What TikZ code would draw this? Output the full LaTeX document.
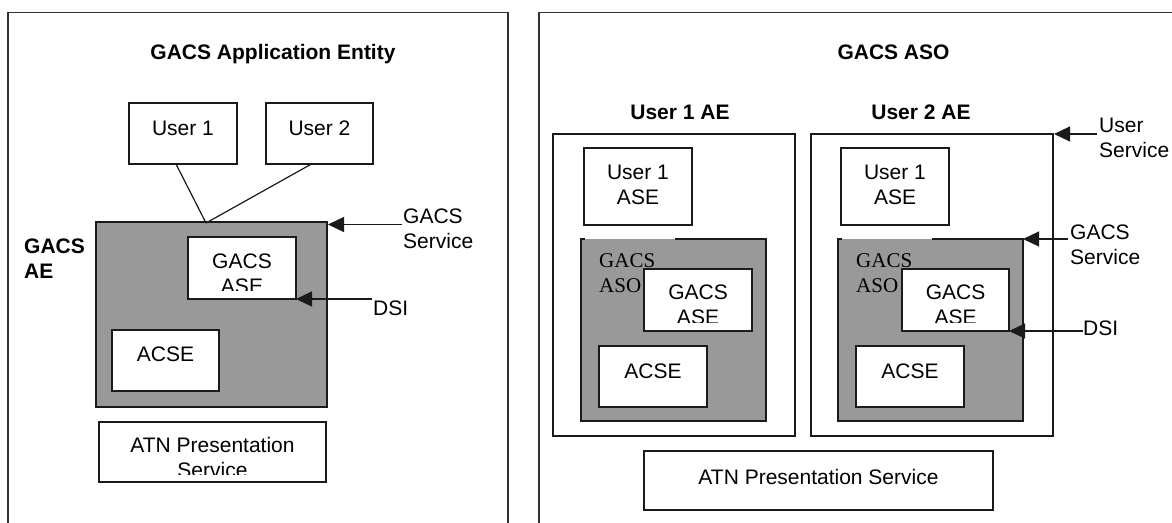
\documentclass[tikz,border=0pt]{standalone}
\usepackage{fontspec}
\setmainfont{Liberation Sans}
\newfontfamily\serifface{Liberation Serif}
\usetikzlibrary{arrows.meta,calc,fit}

\definecolor{shade}{HTML}{999999}
\definecolor{ink}{HTML}{1A1A1A}

% line break that keeps a strut on every line, so lines are evenly spaced
\newcommand\brk{\\\strut}

\tikzset{
  frame/.style={draw=ink!90, line width=1.3pt},
  edge/.style={draw=ink, line width=1.2pt},
  box/.style={draw=ink, line width=1.2pt, fill=white, inner sep=0pt, outer sep=0pt},
  graybox/.style={fill=shade, inner sep=0pt, outer sep=0pt},
  txt/.style={font=\fontsize{21}{25}\selectfont, inner sep=0pt, align=center,
              execute at begin node=\strut},
  lbl/.style={txt, align=left, anchor=west},
  ttl/.style={txt, font=\fontsize{21}{25}\selectfont\bfseries},
  serif/.style={lbl, font=\fontsize{21}{25}\selectfont\serifface},
  ptr/.style={edge, -{Triangle[length=16pt,width=15pt]}}
}

\begin{document}
\begin{tikzpicture}[x=1pt,y=-1pt]
\useasboundingbox (0,0) rectangle (1172,522);

% ---------------- left panel: GACS Application Entity ----------------
\draw[frame] (8,530) -- (8,12.3) -- (508,12.3) -- (508,530);
\node[ttl] (ttlA) at (273,54.3) {GACS Application Entity};

\node[box, fit={(129,103)(237,164)}] (u1) {};
\node[txt] (u1t) at (183,130.3) {User 1};
\node[box, fit={(266,103)(373,164)}] (u2) {};
\node[txt] (u2t) at (319.5,130.3) {User 2};

\node[graybox, draw=ink, line width=1.2pt, fit={(96,222)(327,407)}] (ae) {};
\node[ttl, align=left, anchor=west] (aelbl) at (24,262.8) {GACS\brk AE};

\coordinate (join) at ($(ae.north west)+(110,1)$);
\draw[edge] ($(u1.south)+(-7,0)$) -- (join);
\draw[edge] ($(u2.south)+(-8,0)$) -- (join);

\node[box, fit={(188,237)(296,299)}] (gase) {};
\begin{scope}
  \clip (188,237) rectangle (296,290.5);
  \node[txt] (gaset) at (242,277.3) {GACS\brk ASE};
\end{scope}

\node[box, fit={(112,330)(219,391)}] (acse) {};
\node[txt] (acset) at (165.5,356.8) {ACSE};

\node[box, fit={(99,422)(326,482)}] (atn) {};
\begin{scope}
  \clip (99,422) rectangle (326,474);
  \node[txt] (atnt) at (212.5,460.8) {ATN Presentation\brk Service};
\end{scope}

\node[lbl] (gsvc) at (403,232.8) {GACS\brk Service};
\coordinate (gsvcEnd) at (402,224.5);
\draw[ptr] (gsvcEnd) -- ($(ae.north east)+(1,2.5)$);

\node[lbl] (dsi) at (373,310.3) {DSI};
\coordinate (dsiEnd) at (372,299);
\draw[ptr] (dsiEnd) -- (gase.south east);

% ---------------- right panel: GACS ASO ----------------
\draw[frame] (539,530) -- (539,12.3) -- (1180,12.3);
\node[ttl] (ttlB) at (893.5,54.3) {GACS ASO};

\node[ttl] (ae1lbl) at (680,114.8) {User 1 AE};
\node[ttl] (ae2lbl) at (921,114.8) {User 2 AE};

\node[box, fit={(553,134)(795,436)}] (ae1) {};
\node[box, fit={(811,134)(1053,436)}] (ae2) {};

\node[box, fit={(584,148)(692,225)}] (use1) {};
\node[txt] (use1t) at (638,188.3) {User 1\brk ASE};
\node[box, fit={(841,148)(949,225)}] (use2) {};
\node[txt] (use2t) at (895,188.3) {User 1\brk ASE};

% GACS ASO areas; the top edge is open where the caption sits
\node[graybox, fit={(581,239)(766,421)}] (asoA) {};
\draw[edge] ($(asoA.north west)+(4,0)$) -- (asoA.north west) -- (asoA.south west)
  -- (asoA.south east) -- (asoA.north east) -- ($(asoA.north west)+(94,0)$);
\node[serif] (asoAt) at (599,276.3) {GACS\brk ASO};

\node[graybox, fit={(838,239)(1023,421)}] (asoB) {};
\draw[edge] ($(asoB.north west)+(4,0)$) -- (asoB.north west) -- (asoB.south west)
  -- (asoB.south east) -- (asoB.north east) -- ($(asoB.north west)+(94,0)$);
\node[serif] (asoBt) at (856,276.3) {GACS\brk ASO};

\node[box, fit={(644,269)(752,331)}] (gaseA) {};
\begin{scope}
  \clip (644,269) rectangle (752,322);
  \node[txt] (gaseAt) at (698,308.8) {GACS\brk ASE};
\end{scope}
\node[box, fit={(902,269)(1009,331)}] (gaseB) {};
\begin{scope}
  \clip (902,269) rectangle (1009,322);
  \node[txt] (gaseBt) at (955.5,308.8) {GACS\brk ASE};
\end{scope}

\node[box, fit={(599,346)(707,407)}] (acseA) {};
\node[txt] (acseAt) at (653,373) {ACSE};
\node[box, fit={(856,346)(964,407)}] (acseB) {};
\node[txt] (acseBt) at (910,373) {ACSE};

\node[box, fit={(644,451)(993,510)}] (atn2) {};
\node[txt] (atn2t) at (818.5,479.3) {ATN Presentation Service};

\node[lbl] (usvc) at (1099,141.5) {User\brk Service};
\coordinate (usvcEnd) at (1097,134);
\draw[ptr] (usvcEnd) -- ($(ae2.north east)+(1,0)$);

\node[lbl] (gsvc2) at (1070,248) {GACS\brk Service};
\coordinate (gsvc2End) at (1068,239);
\draw[ptr] (gsvc2End) -- (asoB.north east);

\node[lbl] (dsi2) at (1083,330.6) {DSI};
\coordinate (dsi2End) at (1083,331);
\draw[ptr] (dsi2End) -- (gaseB.south east);
\end{tikzpicture}
\end{document}
